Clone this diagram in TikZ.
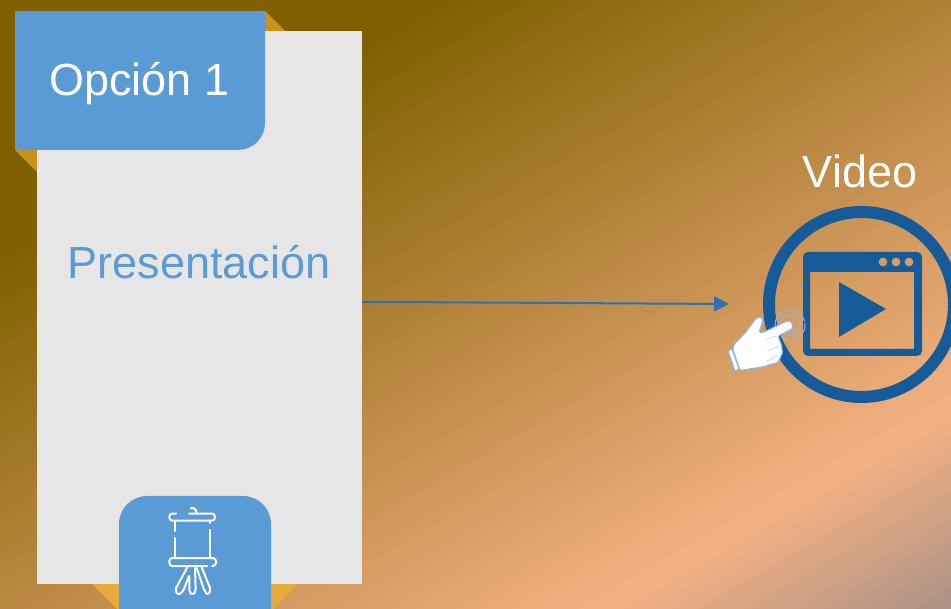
\documentclass[tikz,border=0pt]{standalone}
\usepackage{fontspec}
\setmainfont{Liberation Sans}
\usetikzlibrary{arrows.meta}
\definecolor{bgdark}{HTML}{7F6000}
\definecolor{bgpeach}{HTML}{F4B183}
\definecolor{bggray}{HTML}{AC9186}
\definecolor{tabblue}{HTML}{5B9BD5}
\definecolor{panelgray}{HTML}{E7E6E6}
\definecolor{goldA}{HTML}{C9921C}
\definecolor{goldB}{HTML}{E9AA3C}
\definecolor{iconblue}{HTML}{155A99}
\definecolor{arrowblue}{HTML}{2E70B0}
\definecolor{touchblue}{HTML}{8FB4F0}
\tikzset{
  panelbox/.style={fill=panelgray,draw=none,minimum width=325pt,minimum height=553pt,inner sep=0pt},
  bigtext/.style={font=\fontsize{45}{45}\selectfont,anchor=base,inner sep=0pt},
  iconline/.style={draw=white,line width=2pt,line cap=round,line join=round},
  touchring/.style={draw=touchblue,line width=1pt,dash pattern=on 10pt off 1.5pt},
  fingerline/.style={draw=touchblue!60,line width=0.6pt,line cap=round},
  handfill/.style={fill=white,draw=touchblue,line width=1.1pt,line join=round},
}
\begin{document}
\begin{tikzpicture}[x=1pt,y=-1pt]
\useasboundingbox (0,0) rectangle (951,609);
% background: banded diagonal gradient
\begin{scope}
\clip (0,0) rectangle (951,609);
\foreach \t in {0,12,...,1080}{
  \pgfmathsetmacro{\pa}{min(100,max(0,(\t+6-225)/6.05))}
  \pgfmathsetmacro{\pb}{min(100,max(0,(\t+6-830)/1.73))}
  \colorlet{bandA}{bgpeach!\pa!bgdark}
  \colorlet{bandB}{bggray!\pb!bandA}
  \fill[bandB] ({\t*.5+1500*.866},{\t*.866-750})
    -- ({\t*.5-1500*.866},{\t*.866+750})
    -- ({(\t+13)*.5-1500*.866},{(\t+13)*.866+750})
    -- ({(\t+13)*.5+1500*.866},{(\t+13)*.866-750}) -- cycle;
}
\end{scope}
% gold folds
\fill[goldA] (265,11) -- (285,31) -- (265,31) -- cycle;
\fill[goldA] (15,150) -- (37,172) -- (37,150) -- cycle;
\fill[goldB] (92,584) -- (119,584) -- (119,609) -- (117,609) -- cycle;
\fill[goldB] (271,584) -- (298,584) -- (273,609) -- (271,609) -- cycle;
% panel
\node[panelbox] (panel) at (199.5,307.5) {};
% tab
\fill[tabblue] (15,11) -- (265,11) -- (265,123) .. controls (265,138) and (253,150) .. (238,150) -- (15,150) -- cycle;
% bottom tab
\fill[tabblue] (119,609) -- (119,524) .. controls (119,508.5) and (131.5,496) .. (147,496) -- (243,496) .. controls (258.5,496) and (271,508.5) .. (271,524) -- (271,609) -- cycle;
% texts
\node[bigtext,text=white] (optlabel) at (139.3,96) {Opción 1};
\node[bigtext,text=tabblue] (prestext) at (199,279) {Presentación};
\node[bigtext,text=white] (videotext) at (860,188) {Video};
% easel icon
\draw[iconline,rounded corners=3.2pt] (176,513.5) -- (169.3,513.5) -- (169.3,520.7) -- (215,520.7) -- (215,513.5) -- (189,513.5);
\draw[iconline] (190.7,508.3) .. controls (194,507) and (196.7,510) .. (196.7,513.3);
\draw[iconline] (175,521) -- (175,531); \draw[iconline] (175,538) -- (175,558);
\draw[iconline] (210,521) -- (210,523); \draw[iconline] (210,530) -- (210,558);
\draw[iconline,rounded corners=3.2pt] (207,566) -- (169.3,566) -- (169.3,558) -- (216,558) -- (216,566) -- (212,566);
\draw[iconline,rounded corners=2pt] (187.3,567.3) -- (175,590) -- (178.3,595) -- (183.3,591) -- (189.3,575) -- (189.3,592) -- (192.5,595) -- (195.7,592) -- (195,568);
\draw[iconline,rounded corners=2pt] (196.7,568) -- (204.5,591) -- (207.7,595) -- (210.8,590) -- (201.7,567.3);
% video icon
\draw[iconblue,line width=12pt] (861.5,304.5) circle[radius=92.5];
\fill[iconblue,even odd rule]
  [rounded corners=5pt] (803,252) rectangle (922,356) [sharp corners]
  (810,272) rectangle (914,349)
  (883,262) circle[radius=4.5]
  (896,262) circle[radius=4.5]
  (909,262) circle[radius=4.5];
\fill[iconblue] (839,282) -- (886,309) -- (839,337) -- cycle;
% connector
\coordinate (arrowend) at (729,304);
\draw[arrowblue,line width=2pt,-{Triangle[length=15pt,width=15pt]}] (panel.2.5) -- (arrowend);
% touch rings
\draw[touchring] (790,325) circle[radius=15];
\draw[touchring] (790,325) circle[radius=10];
% hand
\draw[handfill,rounded corners=1.5pt]
  (791.5,321.5) -- (793,328.5) -- (778,336) -- (781.5,345) -- (782.5,353) -- (778,362.5)
  -- (762,367) -- (740,370.5) -- (733,350) -- (734,344.5) -- (746,332) -- (755,319.5)
  -- (760,316.5) -- (763,320) -- (759,332.5) -- (763,332.5) -- (787,321) -- cycle;
\draw[handfill] (728,351) -- (732,349) -- (739,369) -- (735,371) -- cycle;
\draw[fingerline] (765,340) -- (776,336);
\draw[fingerline] (767,351) -- (780,346);
\draw[fingerline] (767,361) -- (778,356);
\end{tikzpicture}
\end{document}
